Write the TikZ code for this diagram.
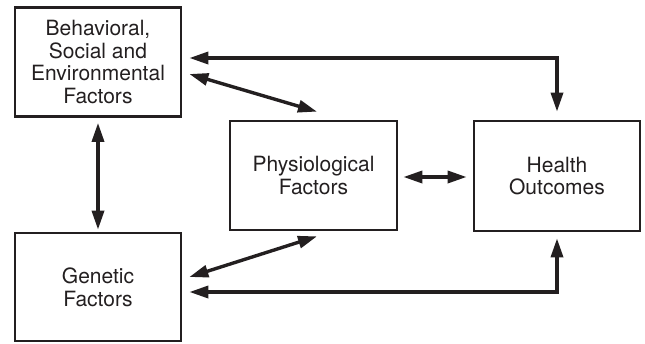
\documentclass[tikz,border=0pt]{standalone}
\usepackage{fontspec}
\setmainfont{TeX Gyre Heros}
\usepackage{tikz}
\usetikzlibrary{arrows.meta,positioning,calc}
\definecolor{inkBlack}{RGB}{35,31,32}

\begin{document}
\begin{tikzpicture}[x=1pt,y=-1pt,
    factorBox/.style={draw=inkBlack,line width=2.7pt,minimum width=166pt,minimum height=109pt,
      align=center,inner sep=0pt,text=inkBlack,font=\fontsize{21}{22.8}\selectfont},
    linkArrow/.style={{Triangle[length=19pt,width=12pt]}-{Triangle[length=19pt,width=12pt]},
      draw=inkBlack,line width=3.4pt}]
  \useasboundingbox (0,0) rectangle (645,343);
  % boxes
  \node[factorBox] (behav) at (98,62) {Behavioral,\\Social and\\Environmental\\Factors};
  \node[factorBox,minimum height=108pt] (genetic) at (98,287) {Genetic\\Factors};
  \node[factorBox,minimum width=167pt] (physio) at (313.5,175.5) {Physiological\\Factors};
  \node[factorBox,minimum height=110pt] (health) at (557,176) {Health\\Outcomes};
  % links
  \draw[linkArrow] ($(behav.east)+(7,-4)$) -| ($(health.north)+(0,-8)$);
  \draw[linkArrow] ($(behav.east)+(7,12)$) -- ($(physio.north)+(3.5,-8)$);
  \draw[linkArrow] ($(behav.south)+(0,5)$) -- ($(genetic.north)+(0,-2)$);
  \draw[linkArrow] ($(genetic.east)+(7,-10)$) -- ($(physio.south)+(3.5,5)$);
  \draw[linkArrow] ($(genetic.east)+(7,5)$) -| ($(health.south)+(0,6)$);
  \draw[linkArrow] ($(physio.east)+(5,1.5)$) -- ($(health.west)+(-6,1)$);
\end{tikzpicture}
\end{document}
